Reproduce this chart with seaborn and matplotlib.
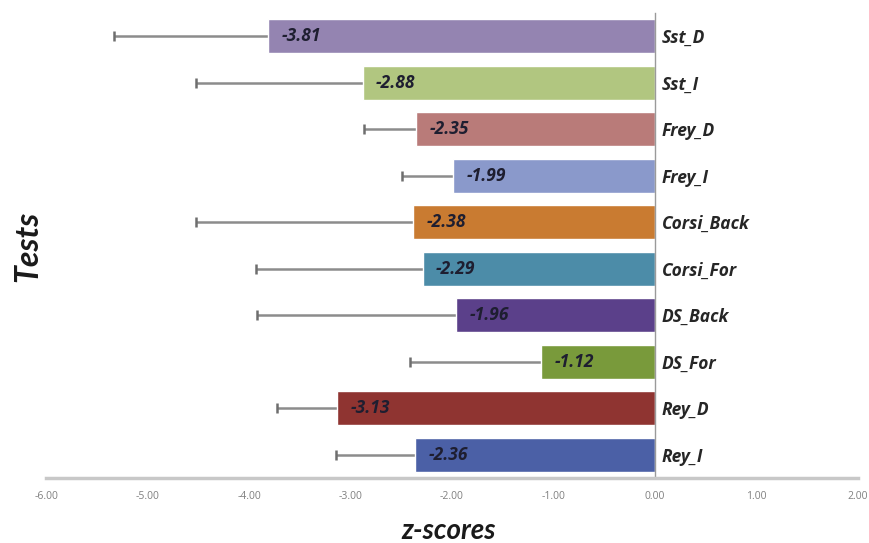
import matplotlib
matplotlib.use("Agg")
import matplotlib.pyplot as plt
import seaborn as sns
import numpy as np

tests = ["Sst_D", "Sst_I", "Frey_D", "Frey_I", "Corsi_Back",
         "Corsi_For", "DS_Back", "DS_For", "Rey_D", "Rey_I"]
z_scores = [-3.81, -2.88, -2.35, -1.99, -2.38, -2.29, -1.96, -1.12, -3.13, -2.36]
sd = [1.52, 1.64, 0.52, 0.50, 2.14, 1.64, 1.96, 1.29, 0.59, 0.78]
bar_colors = ["#9484b1", "#b1c680", "#b97b79", "#8a99cb", "#c97b31",
              "#4c8ca8", "#5b408a", "#799a3b", "#8f3431", "#4b60a6"]
x_ticks = [-6, -5, -4, -3, -2, -1, 0, 1, 2]

sns.set_style("white")
plt.rcParams["font.family"] = ["Open Sans", "DejaVu Sans"]

fig = plt.figure(figsize=(8.7, 5.43), dpi=100)
ax = fig.add_axes([0.0529, 0.1197, 0.9333, 0.8563])

sns.barplot(x=z_scores, y=tests, hue=tests, palette=bar_colors, order=tests,
            hue_order=tests, legend=False, width=0.73, orient="h",
            saturation=1, ax=ax, zorder=2)

# one-sided (lower) error whiskers with a cap at the far end
pos = np.arange(len(tests))
lower = np.array(z_scores) - np.array(sd)
ax.errorbar(z_scores, pos, xerr=[sd, [0] * len(sd)], fmt="none",
            ecolor="#8c8c8c", elinewidth=1.8, capsize=0, zorder=1)
ax.plot(lower, pos, linestyle="none", marker="|", markersize=7,
        markeredgewidth=1.8, color="#6e6e6e", zorder=1)

for y, v in zip(pos, z_scores):
    ax.text(v + 0.13, y, f"{v:.2f}", ha="left", va="center",
            fontsize=12.5, fontweight="bold", fontstyle="italic", color="#1e1e30",
            zorder=3)

ax.set_xlim(-6, 2)
ax.set_ylim(len(tests) - 0.5, -0.5)
ax.set_xticks(x_ticks)
ax.set_xticklabels([f"{t:.2f}" for t in x_ticks], fontsize=7.5, color="#808080")

# category labels sit to the right of the zero line
ax.yaxis.tick_right()
ax.spines["right"].set_position(("data", 0))
ax.spines["right"].set_color("#9a9a9a")
ax.spines["right"].set_linewidth(1.0)
ax.spines["left"].set_visible(False)
ax.spines["top"].set_visible(False)
ax.spines["bottom"].set_color("#c8c8c8")
ax.spines["bottom"].set_linewidth(2.5)
ax.tick_params(axis="y", length=0, pad=5)
ax.tick_params(axis="x", length=0, pad=9)
for lbl in ax.get_yticklabels():
    lbl.set_fontsize(12.5)
    lbl.set_fontweight("bold")
    lbl.set_fontstyle("italic")
    lbl.set_color("#262626")

ax.set_xlabel("")
ax.set_ylabel("")
fig.text(0.516, 0.022, "z-scores", ha="center", va="center", family=["Lato"],
         fontsize=20, fontweight="bold", fontstyle="italic", color="#1a1a1a")
fig.text(0.032, 0.547, "Tests", rotation=90, ha="center", va="center",
         family=["Lato"], fontsize=23, fontweight="bold", fontstyle="italic",
         color="#1a1a1a")

fig.savefig("out.png", dpi=100, facecolor="white")
